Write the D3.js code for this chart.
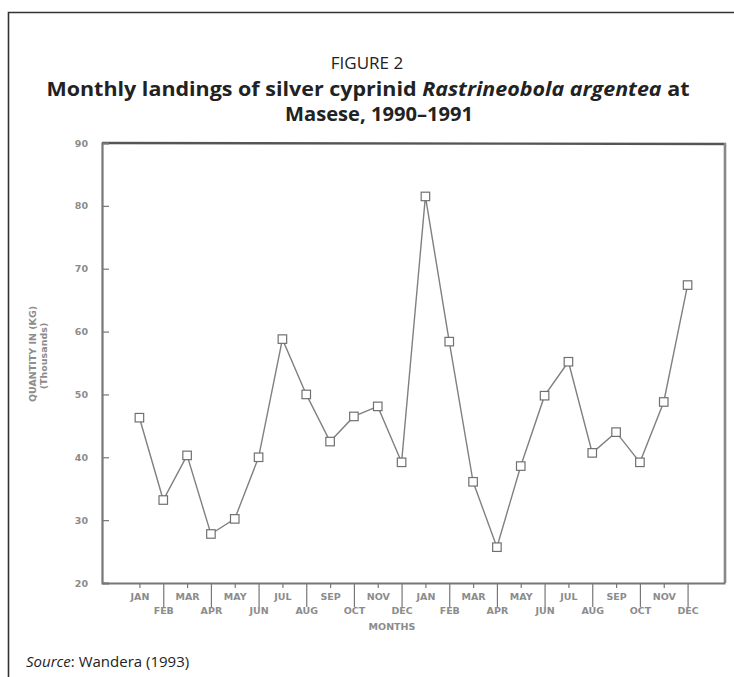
<!DOCTYPE html>
<html>
<head>
<meta charset="utf-8">
<script src="https://cdn.jsdelivr.net/npm/d3@7"></script>
<style>
  html, body { margin: 0; padding: 0; background: #fff; }
  svg { display: block; }
</style>
</head>
<body>
<svg id="chart" width="734" height="677"></svg>
<script>
// ---- data ----
const monthNames = ["JAN","FEB","MAR","APR","MAY","JUN","JUL","AUG","SEP","OCT","NOV","DEC"];
const categories = monthNames.concat(monthNames); // Jan 1990 .. Dec 1991
const values1990 = [46.3, 33.2, 40.3, 27.8, 30.2, 40.0, 58.8, 50.0, 42.5, 46.5, 48.1, 39.2];
const values1991 = [81.5, 58.4, 36.1, 25.7, 38.6, 49.8, 55.2, 40.7, 44.0, 39.2, 48.8, 67.4];
const yTicks = [20, 30, 40, 50, 60, 70, 80, 90];
const titleTop = "FIGURE 2";
const yTitle1 = "QUANTITY IN (KG)";
const yTitle2 = "(Thousands)";
const xTitle = "MONTHS";

const values = values1990.concat(values1991);
const data = values.map((v, i) => ({ i, m: categories[i], v }));

const svg = d3.select("#chart");

// outer frame (extends beyond the visible page on right and bottom)
svg.append("path")
  .attr("d", "M8.5,690 L8.5,12.5 L740,12.5")
  .attr("fill", "none").attr("stroke", "#333").attr("stroke-width", 1.6);

// titles
const titleFont = "'Open Sans', 'Noto Sans', sans-serif";
svg.append("text").attr("x", 367).attr("y", 69).attr("text-anchor", "middle")
  .style("font-family", titleFont).style("font-size", "17px").attr("fill", "#222")
  .text(titleTop);
const t2 = svg.append("text").attr("x", 368).attr("y", 96).attr("text-anchor", "middle")
  .attr("textLength", 643).attr("lengthAdjust", "spacingAndGlyphs")
  .style("font-family", titleFont).style("font-size", "19.5px").style("font-weight", "bold").attr("fill", "#222");
t2.append("tspan").text("Monthly landings of silver cyprinid ");
t2.append("tspan").style("font-style", "italic").text("Rastrineobola argentea");
t2.append("tspan").text(" at");
svg.append("text").attr("x", 379).attr("y", 121).attr("text-anchor", "middle")
  .attr("textLength", 188).attr("lengthAdjust", "spacingAndGlyphs")
  .style("font-family", titleFont).style("font-size", "19.5px").style("font-weight", "bold").attr("fill", "#222")
  .text("Masese, 1990\u20131991");

// source
const src = svg.append("text").attr("x", 26).attr("y", 667)
  .style("font-family", titleFont).style("font-size", "15px").attr("fill", "#222");
src.append("tspan").style("font-style", "italic").text("Source");
src.append("tspan").text(": Wandera (1993)");

// plot geometry
const pLeft = 102, pRight = 725, pTop = 143, pBottom = 583;

const x = d3.scalePoint().domain(d3.range(categories.length)).range([pLeft, pRight]).padding(1.57);
const y = d3.scaleLinear().domain([20, 90]).range([pBottom, pTop]);

const gray = "#777";
const textGray = "#8c8c8c";
const smallFont = "'DejaVu Sans', sans-serif";

// plot frame: top and right
svg.append("line").attr("x1", pLeft).attr("x2", pRight + 1).attr("y1", pTop).attr("y2", pTop + 1)
  .attr("stroke", "#555").attr("stroke-width", 2.4);
svg.append("line").attr("x1", pRight).attr("x2", pRight).attr("y1", pTop).attr("y2", pBottom)
  .attr("stroke", "#888").attr("stroke-width", 2.6);

// y axis
const yAxis = d3.axisLeft(y).tickValues(yTicks).tickSize(-7).tickPadding(14).tickFormat(d3.format("d"));
const gy = svg.append("g").attr("transform", `translate(${pLeft},0)`).call(yAxis);
gy.select(".domain").attr("stroke", gray).attr("stroke-width", 2.2);
gy.selectAll(".tick line").attr("stroke", gray).attr("stroke-width", 1.2);
gy.selectAll(".tick text").attr("fill", textGray)
  .style("font-family", smallFont).style("font-size", "9.5px").style("font-weight", "bold");

// x axis
const xAxis = d3.axisBottom(x).tickSize(0).tickFormat(i => categories[i]);
const gx = svg.append("g").attr("transform", `translate(0,${pBottom})`).call(xAxis);
gx.select(".domain").attr("stroke", gray).attr("stroke-width", 2.2);
gx.selectAll(".tick line").remove();
gx.selectAll(".tick").append("line")
  .attr("x1", 0).attr("x2", 0).attr("y1", 0)
  .attr("y2", i => (i % 2 === 1) ? 24 : 5)
  .attr("stroke", gray).attr("stroke-width", 1.2);
gx.selectAll(".tick text")
  .attr("y", i => (i % 2 === 0) ? 17 : 31)
  .attr("dy", 0)
  .attr("fill", textGray)
  .style("font-family", smallFont).style("font-size", "9.5px").style("font-weight", "bold");

svg.append("text").attr("x", 392).attr("y", 630).attr("text-anchor", "middle")
  .style("font-family", smallFont).style("font-size", "9.5px").style("font-weight", "bold")
  .attr("fill", textGray).text(xTitle);

// y title
svg.append("text").attr("transform", "translate(36,354) rotate(-90)").attr("text-anchor", "middle")
  .style("font-family", smallFont).style("font-size", "9.5px").style("font-weight", "bold")
  .attr("fill", textGray).text(yTitle1);
svg.append("text").attr("transform", "translate(47,356) rotate(-90)").attr("text-anchor", "middle")
  .style("font-family", smallFont).style("font-size", "9.5px").style("font-weight", "bold")
  .attr("fill", textGray).text(yTitle2);

// line
const line = d3.line().x(d => x(d.i)).y(d => y(d.v));
svg.append("path").datum(data).attr("d", line)
  .attr("fill", "none").attr("stroke", "#808080").attr("stroke-width", 1.4);

// square markers
const s = 8.5;
svg.append("g").selectAll("rect").data(data).join("rect")
  .attr("x", d => x(d.i) - s / 2).attr("y", d => y(d.v) - s / 2)
  .attr("width", s).attr("height", s)
  .attr("fill", "#fff").attr("stroke", "#707070").attr("stroke-width", 1.2);
</script>
</body>
</html>
